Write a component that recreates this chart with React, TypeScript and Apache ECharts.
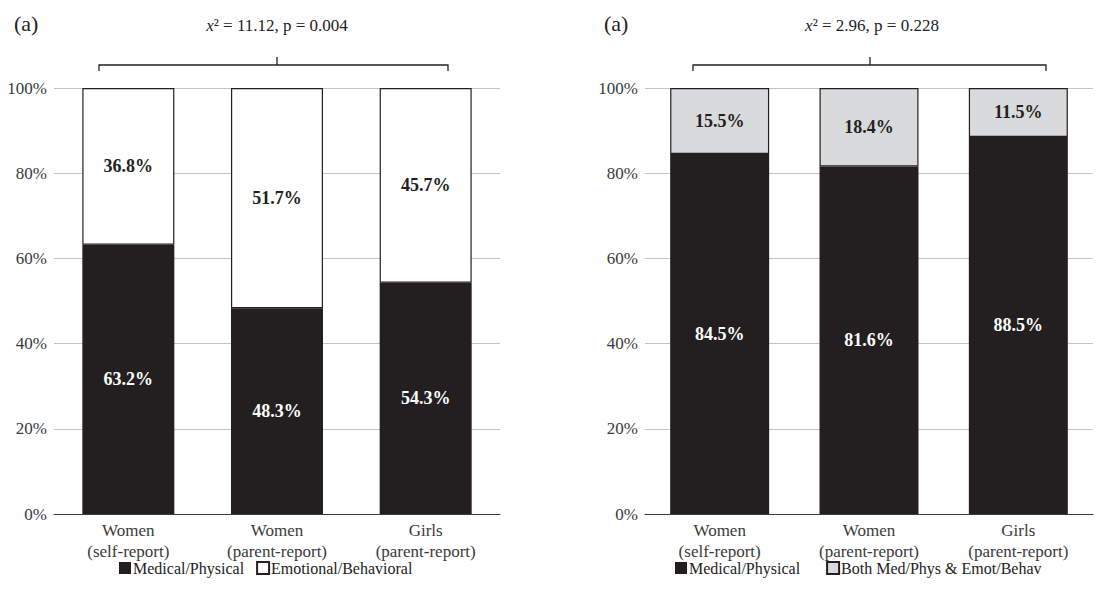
import React, { useEffect, useRef } from "react";
import * as echarts from "echarts";

const categories = ["Women\n(self-report)", "Women\n(parent-report)", "Girls\n(parent-report)"];
const leftMedical = [63.2, 48.3, 54.3];
const leftEmotional = [36.8, 51.7, 45.7];
const rightMedical = [84.5, 81.6, 88.5];
const rightBoth = [15.5, 18.4, 11.5];
const yTicks = [0, 20, 40, 60, 80, 100];
const leftStat = { chi: "11.12", p: "0.004" };
const rightStat = { chi: "2.96", p: "0.228" };

const FONT = "Liberation Serif";
const DARK = "#231f20";
const GRAY = "#d9dadb";

export default function App() {
  const ref = useRef<HTMLDivElement>(null);
  useEffect(() => {
    if (!ref.current) return;
    const chart = echarts.init(ref.current, undefined, { renderer: "svg" });
    const yAxis = (gi: number) => ({
      type: "value",
      gridIndex: gi,
      min: yTicks[0],
      max: yTicks[yTicks.length - 1],
      interval: 20,
      axisLine: { show: false },
      axisTick: { show: false },
      splitLine: { lineStyle: { color: "#c4c4c4", width: 1 } },
      axisLabel: {
        formatter: "{value}%",
        fontFamily: FONT,
        fontSize: 17,
        color: "#3a3a3a",
        margin: 7,
      },
    });
    const xAxis = (gi: number) => ({
      type: "category",
      gridIndex: gi,
      data: categories,
      axisLine: { lineStyle: { color: "#3a3a3a", width: 1.2 } },
      axisTick: { show: false },
      axisLabel: {
        fontFamily: FONT,
        fontSize: 17,
        color: "#3a3a3a",
        lineHeight: 21,
        margin: 6,
        interval: 0,
      },
    });
    const lbl = (color: string) => ({
      show: true,
      position: "inside",
      formatter: (p: any) => p.value.toFixed(1) + "%",
      fontFamily: FONT,
      fontSize: 18,
      fontWeight: "bold",
      color,
    });
    const statText = (s: { chi: string; p: string }) =>
      `{i|x}{n|² = ${s.chi}, p = ${s.p}}`;
    const rich = {
      i: { fontFamily: FONT, fontSize: 17, fontStyle: "italic", fill: "#222" },
      n: { fontFamily: FONT, fontSize: 17, fill: "#222" },
    };
    const bracket = (x1: number, x2: number, xc: number) => [
      {
        type: "polyline",
        shape: { points: [[x1, 71], [x1, 65], [x2, 65], [x2, 71]] },
        style: { stroke: "#222", lineWidth: 1.3, fill: "none" },
      },
      {
        type: "line",
        shape: { x1: xc, y1: 65, x2: xc, y2: 57 },
        style: { stroke: "#222", lineWidth: 1.3 },
      },
    ];
    const legendText = { fontFamily: FONT, fontSize: 16, color: "#222", padding: [0, 0, 0, -3] };
    chart.setOption({
      animation: false,
      backgroundColor: "#fff",
      grid: [
        { left: 54, right: 616, top: 88, bottom: 88 },
        { left: 645, right: 23, top: 88, bottom: 88 },
      ],
      xAxis: [xAxis(0), xAxis(1)],
      yAxis: [yAxis(0), yAxis(1)],
      legend: [
        {
          left: 114,
          top: 555,
          selectedMode: false,
          icon: "rect",
          itemWidth: 12,
          itemHeight: 12,
          itemGap: 12,
          textStyle: legendText,
          data: ["Medical/Physical", "Emotional/Behavioral"],
        },
        {
          left: 670,
          top: 555,
          selectedMode: false,
          icon: "rect",
          itemWidth: 12,
          itemHeight: 12,
          itemGap: 22,
          textStyle: legendText,
          data: ["Medical/Physical ", "Both Med/Phys & Emot/Behav"],
        },
      ],
      series: [
        {
          name: "Medical/Physical",
          type: "bar",
          stack: "l",
          xAxisIndex: 0,
          yAxisIndex: 0,
          barWidth: 92,
          data: leftMedical,
          itemStyle: { color: DARK },
          label: lbl("#ffffff"),
        },
        {
          name: "Emotional/Behavioral",
          type: "bar",
          stack: "l",
          xAxisIndex: 0,
          yAxisIndex: 0,
          barWidth: 92,
          data: leftEmotional,
          itemStyle: { color: "#ffffff", borderColor: DARK, borderWidth: 1.2 },
          label: lbl(DARK),
        },
        {
          name: "Medical/Physical ",
          type: "bar",
          stack: "r",
          xAxisIndex: 1,
          yAxisIndex: 1,
          barWidth: 99,
          data: rightMedical,
          itemStyle: { color: DARK },
          label: lbl("#ffffff"),
        },
        {
          name: "Both Med/Phys & Emot/Behav",
          type: "bar",
          stack: "r",
          xAxisIndex: 1,
          yAxisIndex: 1,
          barWidth: 99,
          data: rightBoth,
          itemStyle: { color: GRAY, borderColor: DARK, borderWidth: 1.2 },
          label: lbl(DARK),
        },
      ],
      graphic: [
        {
          type: "text",
          left: 14,
          top: 12,
          style: { text: "(a)", fontFamily: FONT, fontSize: 22, fill: "#222" },
        },
        {
          type: "text",
          left: 604,
          top: 12,
          style: { text: "(a)", fontFamily: FONT, fontSize: 22, fill: "#222" },
        },
        {
          type: "text",
          x: 277,
          y: 25,
          style: {
            text: statText(leftStat),
            rich,
            align: "center",
            verticalAlign: "middle",
          },
        },
        {
          type: "text",
          x: 872,
          y: 25,
          style: {
            text: statText(rightStat),
            rich,
            align: "center",
            verticalAlign: "middle",
          },
        },
        ...bracket(99, 448, 277),
        ...bracket(693, 1046, 870),
      ],
    });
    return () => chart.dispose();
  }, []);
  return <div ref={ref} style={{ width: 1116, height: 602, position: "absolute", left: 0, top: 0 }} />;
}
